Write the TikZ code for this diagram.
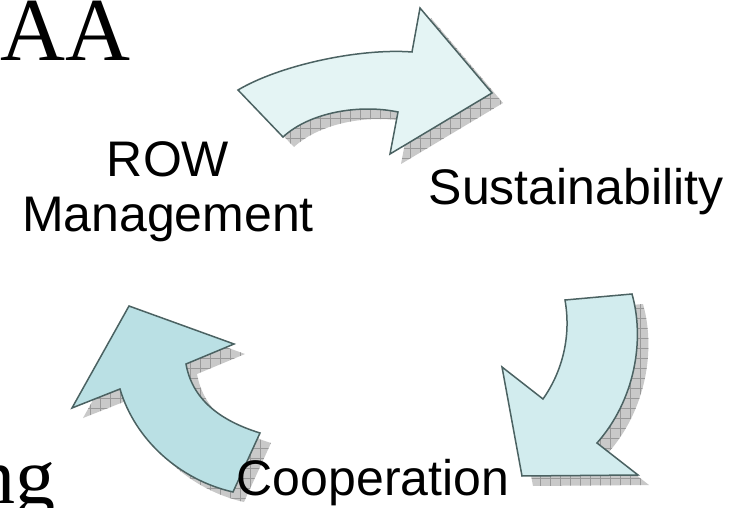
\documentclass[tikz,border=0pt]{standalone}
\usepackage{fontspec}
\setmainfont{Liberation Serif}
\setsansfont{Liberation Sans}
\usepackage{tikz}
\usetikzlibrary{patterns.meta}

\definecolor{arrow border}{RGB}{75,98,98}
\definecolor{top fill}{RGB}{228,244,244}
\definecolor{right fill}{RGB}{210,236,238}
\definecolor{left fill}{RGB}{186,224,228}

\tikzset{
  cycle arrow/.style={draw=arrow border, line width=1.5pt,
    preaction={fill=gray!42, transform canvas={shift={(11pt,-10pt)}}},
    preaction={pattern={Hatch[distance=10pt, line width=0.4pt]}, pattern color=gray!80, transform canvas={shift={(11pt,-10pt)}}}},
  cycle label/.style={font=\sffamily\fontsize{50}{56}\selectfont, inner sep=0pt, anchor=base}
}

\begin{document}
\begin{tikzpicture}[x=1pt, y=-1pt]
\useasboundingbox[fill=white] (0,0) rectangle (745,508);

\node[anchor=base west, inner sep=0pt, font=\fontsize{90}{90}\selectfont] (aa text) at (0,61) {AA};
\node[anchor=base east, inner sep=0pt, font=\fontsize{80}{80}\selectfont] (ng text) at (56,503) {ng};

% top arrow
\draw[cycle arrow, fill=top fill] (238,90) .. controls (280,65) and (360,48) .. (412,52) -- (420,8) -- (492,93) -- (390,154) -- (398,112) .. controls (360,104) and (310,112) .. (283,137) -- cycle;

% right arrow
\draw[cycle arrow, fill=right fill] (565,300) -- (632,294) .. controls (645,340) and (635,400) .. (597,443) -- (638,475) -- (522,476) -- (502,367) -- (543,399) .. controls (560,375) and (572,340) .. (565,300) -- cycle;

% left arrow
\draw[cycle arrow, fill=left fill] (233,492) -- (260,433) .. controls (218,420) and (192,398) .. (186,364) -- (234,344) -- (129,306) -- (72,408) -- (120,389) .. controls (135,440) and (180,480) .. (233,492) -- cycle;

\node[cycle label] (row label) at (168,177) {ROW};
\node[cycle label] (management label) at (168,232) {Management};
\node[cycle label] (sustainability label) at (576,205) {Sustainability};
\node[cycle label] (cooperation label) at (373,495) {Cooperation};
\end{tikzpicture}
\end{document}
